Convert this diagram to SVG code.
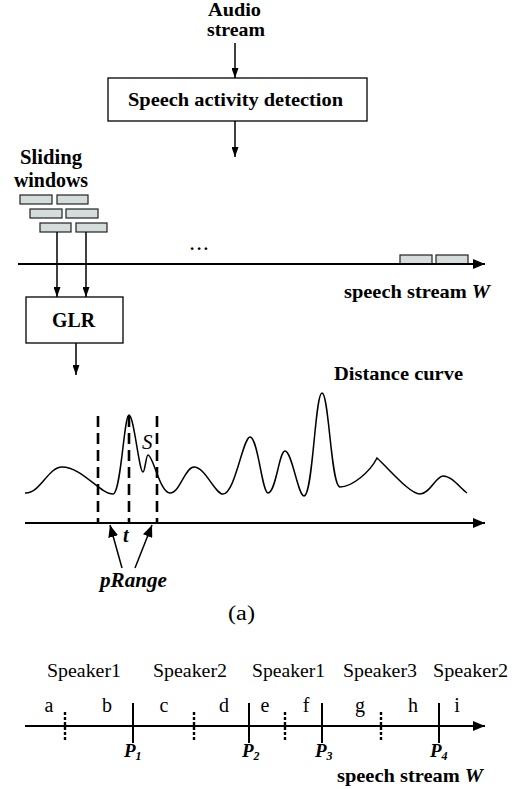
<svg xmlns="http://www.w3.org/2000/svg" width="530" height="789" viewBox="0 0 530 789">
<defs>
<marker id="ah" viewBox="0 0 10 7" markerWidth="10" markerHeight="7" refX="10" refY="3.5" orient="auto" markerUnits="userSpaceOnUse">
<path d="M0,0 L10,3.5 L0,7 z" fill="#000"/>
</marker>
<marker id="ahb" viewBox="0 0 12 10" markerWidth="12" markerHeight="10" refX="12" refY="5" orient="auto" markerUnits="userSpaceOnUse">
<path d="M0,0 L12,5 L0,10 z" fill="#000"/>
</marker>
<style>
text{font-family:'Times New Roman','Liberation Serif',Tinos,'Nimbus Roman',serif;fill:#000}
.b{font-weight:bold}
.bi{font-weight:bold;font-style:italic}
.box{fill:#fff;stroke:#000;stroke-width:1.3}
.win{fill:#d4dcdc;stroke:#222;stroke-width:1.2}
.ln{stroke:#000;stroke-width:1.5;fill:none}
.ax{stroke:#000;stroke-width:2;fill:none}
.dash{stroke:#000;stroke-width:2.6;stroke-dasharray:11,6;fill:none}
.dot{stroke:#000;stroke-width:2.4;stroke-dasharray:3,2;fill:none}
.tick{stroke:#000;stroke-width:2;fill:none}
</style>
</defs>

<g id="audio-label">
<text class="b" x="208" y="16" font-size="18" textLength="53" lengthAdjust="spacingAndGlyphs">Audio</text>
<text class="b" x="207" y="36" font-size="19" textLength="58" lengthAdjust="spacingAndGlyphs">stream</text>
</g>

<g id="sad">
<rect class="box" x="108" y="78" width="259" height="43"/>
<text class="b" x="128" y="106" font-size="19" textLength="215" lengthAdjust="spacingAndGlyphs">Speech activity detection</text>
</g>

<g id="sliding-label">
<text class="b" x="20" y="164" font-size="20" textLength="62" lengthAdjust="spacingAndGlyphs">Sliding</text>
<text class="b" x="14" y="187" font-size="20" textLength="74" lengthAdjust="spacingAndGlyphs">windows</text>
</g>

<g id="windows">
<rect class="win" x="20" y="195" width="32" height="9"/>
<rect class="win" x="57" y="195" width="31" height="9"/>
<rect class="win" x="30" y="209" width="32" height="9"/>
<rect class="win" x="66" y="209" width="32" height="9"/>
<rect class="win" x="40" y="223" width="31" height="9"/>
<rect class="win" x="76" y="223" width="31" height="9"/>
<rect class="win" x="400" y="255" width="32" height="9"/>
<rect class="win" x="436" y="255" width="32" height="9"/>
<text class="b" x="190" y="250" font-size="17" textLength="18">...</text>
</g>

<g id="speech-stream-1">
<text class="b" x="344" y="298" font-size="19" textLength="146" lengthAdjust="spacingAndGlyphs">speech stream <tspan font-style="italic">W</tspan></text>
</g>

<g id="glr">
<rect class="box" x="26" y="297" width="97" height="46"/>
<text class="b" x="52" y="327" font-size="20" textLength="43" lengthAdjust="spacingAndGlyphs">GLR</text>
</g>

<g id="distance-label">
<text class="b" x="334" y="380" font-size="19" textLength="129" lengthAdjust="spacingAndGlyphs">Distance curve</text>
</g>

<g id="curve">
<path class="ln" stroke-width="1.8" d="M25,493 C40,494 48,467 62,467 C82,467 100,494 113,494 C121,494 124,415 129,415 C134,415 139,472 143,472 C145,472 146,455 148,455 C153,455 160,493 170,493 C180,493 185,467 194,467 C205,467 215,494 223,494 C235,494 243,437 250,437 C258,437 262,493 268,493 C276,493 279,451 285,451 C292,451 298,496 304,496 C313,496 315,393 322,393 C329,393 331,487 340,487 C352,487 370,472 377,458 C390,470 410,494 420,494 C430,494 436,476 443,476 C452,476 460,488 467,493"/>
<text x="142" y="449" font-size="21" font-style="italic">S</text>
</g>

<g id="prange">
<line class="dash" x1="98" y1="416" x2="98" y2="523"/>
<line class="dash" x1="129" y1="416" x2="129" y2="523"/>
<line class="dash" x1="157" y1="416" x2="157" y2="523"/>
<text class="bi" x="123" y="542" font-size="20">t</text>
<text class="bi" x="100" y="587" font-size="20" textLength="67" lengthAdjust="spacingAndGlyphs">pRange</text>
</g>

<g id="caption">
<text x="228" y="620" font-size="20" textLength="27" lengthAdjust="spacingAndGlyphs">(a)</text>
</g>

<g id="speakers" font-size="19">
<text x="47" y="677" textLength="74" lengthAdjust="spacingAndGlyphs">Speaker1</text>
<text x="153" y="677" textLength="74" lengthAdjust="spacingAndGlyphs">Speaker2</text>
<text x="252" y="677" textLength="73" lengthAdjust="spacingAndGlyphs">Speaker1</text>
<text x="343" y="677" textLength="74" lengthAdjust="spacingAndGlyphs">Speaker3</text>
<text x="433" y="677" textLength="75" lengthAdjust="spacingAndGlyphs">Speaker2</text>
</g>

<g id="segments" font-size="20" text-anchor="middle">
<text x="49" y="712">a</text>
<text x="107" y="712">b</text>
<text x="164" y="712">c</text>
<text x="224" y="712">d</text>
<text x="265" y="712">e</text>
<text x="306" y="712">f</text>
<text x="360" y="712">g</text>
<text x="413" y="712">h</text>
<text x="457" y="712">i</text>
</g>

<g id="points" font-size="19">
<text class="bi" x="124" y="757">P<tspan font-size="12" dy="3">1</tspan></text>
<text class="bi" x="242" y="757">P<tspan font-size="12" dy="3">2</tspan></text>
<text class="bi" x="315" y="757">P<tspan font-size="12" dy="3">3</tspan></text>
<text class="bi" x="430" y="757">P<tspan font-size="12" dy="3">4</tspan></text>
</g>

<g id="speech-stream-2">
<text class="b" x="337" y="782" font-size="19" textLength="146" lengthAdjust="spacingAndGlyphs">speech stream <tspan font-style="italic">W</tspan></text>
</g>

<g id="connectors">
<line class="ln" x1="235" y1="43" x2="235" y2="78" marker-end="url(#ah)"/>
<line class="ln" x1="235" y1="121" x2="235" y2="157" marker-end="url(#ah)"/>
<line class="ax" x1="18" y1="264" x2="485" y2="264" marker-end="url(#ahb)"/>
<line class="ln" x1="57" y1="232" x2="57" y2="297" marker-end="url(#ah)"/>
<line class="ln" x1="86" y1="232" x2="86" y2="297" marker-end="url(#ah)"/>
<line class="ln" x1="76" y1="343" x2="76" y2="375" marker-end="url(#ah)"/>
<line class="ax" x1="25" y1="523" x2="485" y2="523" marker-end="url(#ahb)"/>
<line class="ln" x1="122" y1="568" x2="110" y2="525" marker-end="url(#ahb)"/>
<line class="ln" x1="135" y1="568" x2="152" y2="525" marker-end="url(#ahb)"/>
<line class="ax" x1="25" y1="726" x2="485" y2="726" marker-end="url(#ahb)"/>
<line class="dot" x1="65" y1="712" x2="65" y2="740"/>
<line class="dot" x1="194" y1="712" x2="194" y2="740"/>
<line class="dot" x1="285" y1="712" x2="285" y2="740"/>
<line class="dot" x1="381" y1="712" x2="381" y2="740"/>
<line class="tick" x1="133" y1="703" x2="133" y2="743"/>
<line class="tick" x1="249" y1="703" x2="249" y2="743"/>
<line class="tick" x1="322" y1="703" x2="322" y2="743"/>
<line class="tick" x1="439" y1="703" x2="439" y2="743"/>
</g>
</svg>
